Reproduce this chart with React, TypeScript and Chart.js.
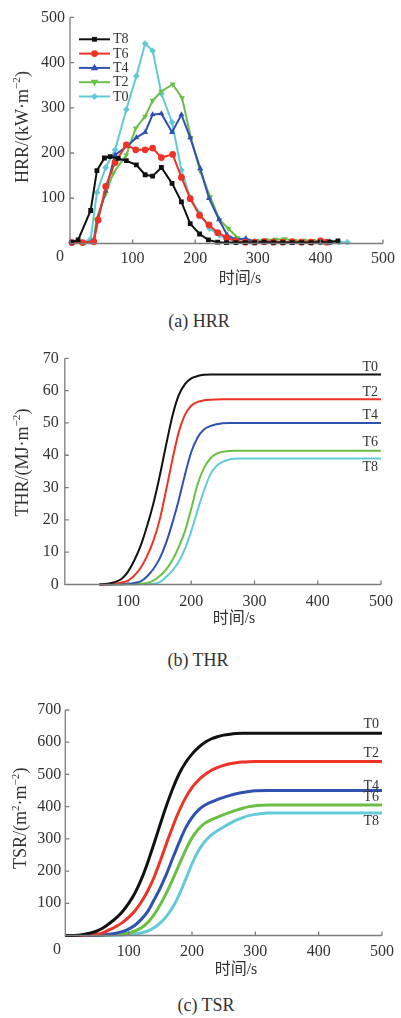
import React, { useEffect, useRef } from 'react';
import { Chart, registerables } from 'chart.js';

Chart.register(...registerables);

// ---------------- DATA ----------------
// (a) HRR, kW/m2 vs time (s)
const hrrNames = ['T8', 'T6', 'T4', 'T2', 'T0'];
const hrrT8Time = [3, 13, 33, 43, 55, 64, 77, 90, 106, 120, 132, 146, 163, 178, 192, 207, 221, 236, 250, 265, 280, 295, 310, 325, 340, 355, 370, 385, 400, 415, 428];
const hrrT8Value = [3, 8, 73, 161, 189, 192, 188, 183, 174, 152, 149, 168, 133, 92, 44, 21, 8, 3, 2, 2, 2, 2, 3, 2, 2, 2, 2, 2, 3, 3, 6];
const hrrT6Time = [3, 20, 38, 45, 57, 72, 90, 105, 120, 132, 146, 164, 178, 192, 207, 222, 236, 250, 265, 280, 295, 310, 325, 340, 355, 370, 385, 400, 410];
const hrrT6Value = [2, 2, 4, 52, 126, 179, 218, 207, 207, 211, 190, 197, 146, 99, 62, 41, 24, 13, 5, 3, 3, 4, 3, 3, 4, 3, 3, 6, 3];
const hrrT4Time = [3, 20, 38, 44, 57, 72, 91, 106, 120, 132, 146, 163, 178, 192, 208, 222, 238, 251, 264, 281, 295, 310, 325, 340, 355, 370, 385, 400, 415];
const hrrT4Value = [2, 2, 5, 54, 116, 196, 215, 234, 246, 285, 287, 246, 285, 234, 166, 100, 53, 19, 9, 11, 4, 4, 5, 3, 4, 3, 3, 4, 4];
const hrrT2Time = [3, 20, 38, 42, 56, 69, 90, 105, 120, 132, 146, 164, 179, 193, 208, 224, 239, 253, 268, 283, 298, 313, 328, 343, 358, 373, 388, 403, 418];
const hrrT2Value = [2, 2, 4, 53, 107, 155, 196, 255, 281, 316, 336, 352, 322, 234, 160, 103, 52, 33, 12, 6, 6, 8, 9, 10, 6, 7, 6, 5, 4];
const hrrT0Time = [3, 20, 33, 43, 57, 72, 90, 106, 120, 132, 146, 163, 178, 192, 207, 223, 239, 252, 265, 280, 295, 310, 325, 340, 355, 370, 385, 400, 415, 430, 443];
const hrrT0Value = [2, 2, 10, 113, 168, 207, 296, 370, 442, 426, 331, 268, 162, 102, 67, 33, 18, 10, 6, 4, 4, 3, 4, 3, 3, 3, 3, 3, 3, 3, 3];

// (b) THR, MJ/m2 vs time (s)
const thrNames = ['T0', 'T2', 'T4', 'T6', 'T8'];
const thrT0Time = [55, 60, 70, 80, 90, 100, 110, 120, 130, 140, 150, 160, 170, 180, 190, 200, 210, 220, 230, 250, 500];
const thrT0Value = [0, 0.1, 0.3, 0.8, 1.8, 4, 7.5, 12, 18, 25, 33.5, 43, 52, 58.5, 62, 63.8, 64.5, 64.9, 65, 65, 65];
const thrT2Time = [55, 70, 80, 90, 100, 110, 120, 130, 140, 150, 160, 170, 180, 190, 200, 210, 220, 230, 250, 500];
const thrT2Value = [0, 0.1, 0.3, 0.6, 1.2, 2.8, 5.2, 8.8, 13.5, 20, 29, 38.5, 47, 52.5, 55.3, 56.5, 57, 57.2, 57.3, 57.3];
const thrT4Time = [55, 80, 90, 100, 110, 120, 130, 140, 150, 160, 170, 180, 190, 200, 210, 220, 230, 240, 260, 500];
const thrT4Value = [0, 0.05, 0.1, 0.2, 0.5, 1, 2.5, 4.8, 8, 12.8, 19, 26, 34, 41, 45.5, 48, 49, 49.6, 50, 50];
const thrT6Time = [55, 100, 110, 120, 130, 140, 150, 160, 170, 180, 190, 200, 210, 220, 230, 240, 250, 270, 500];
const thrT6Value = [0, 0.05, 0.1, 0.2, 0.5, 1.2, 2.6, 4.6, 7.5, 11.5, 16.5, 23.5, 31, 36, 39, 40.5, 41.1, 41.4, 41.4];
const thrT8Time = [55, 120, 130, 140, 150, 160, 170, 180, 190, 200, 210, 220, 230, 240, 250, 260, 280, 500];
const thrT8Value = [0, 0.05, 0.1, 0.2, 0.7, 2.3, 4.3, 7, 11, 16.5, 23, 29, 34, 36.7, 38, 38.7, 39, 39];

// (c) TSR, m2/m2 vs time (s)
const tsrNames = ['T0', 'T2', 'T4', 'T6', 'T8'];
const tsrT0Time = [0, 20, 40, 50, 60, 70, 80, 90, 100, 110, 120, 130, 140, 150, 160, 170, 180, 190, 200, 210, 220, 230, 240, 250, 260, 270, 280, 500];
const tsrT0Value = [0, 1, 8, 14, 24, 38, 54, 74, 100, 132, 174, 226, 285, 346, 405, 458, 503, 537, 563, 583, 599, 610, 617, 622, 625, 627, 628, 628];
const tsrT2Time = [0, 30, 50, 60, 70, 80, 90, 100, 110, 120, 130, 140, 150, 160, 170, 180, 190, 200, 210, 220, 230, 240, 250, 260, 270, 280, 290, 300, 500];
const tsrT2Value = [0, 1, 4, 9, 18, 28, 40, 56, 77, 104, 138, 180, 232, 287, 340, 388, 428, 459, 482, 499, 512, 521, 528, 533, 536.5, 538.5, 539.5, 540, 540];
const tsrT4Time = [0, 50, 70, 80, 90, 100, 110, 120, 130, 140, 150, 160, 170, 180, 190, 200, 210, 220, 230, 240, 250, 260, 270, 280, 290, 300, 320, 500];
const tsrT4Value = [0, 1, 4, 7, 12, 20, 32, 50, 74, 110, 148, 192, 242, 290, 334, 366, 389, 404, 414, 422, 429, 435, 440, 444, 447, 449, 450, 450];
const tsrT6Time = [0, 60, 80, 90, 100, 110, 120, 130, 140, 150, 160, 170, 180, 190, 200, 210, 220, 230, 240, 250, 260, 270, 280, 290, 300, 310, 320, 500];
const tsrT6Value = [0, 1, 3, 5, 8, 14, 24, 40, 64, 96, 134, 176, 221, 265, 303, 330, 348, 359, 367, 375, 382, 389, 395, 400, 403, 404.5, 405, 405];
const tsrT8Time = [0, 80, 100, 110, 120, 130, 140, 150, 160, 170, 180, 190, 200, 210, 220, 230, 240, 250, 260, 270, 280, 290, 300, 310, 320, 500];
const tsrT8Value = [0, 1, 3, 5, 8, 14, 24, 39, 60, 89, 128, 174, 222, 262, 291, 311, 325, 337, 348, 358, 366, 372, 376, 378.5, 380, 380];

const xTicks = [0, 100, 200, 300, 400, 500];

// ---------------- STYLE ----------------
const SERIF = '"Liberation Serif", "Times New Roman", serif';
const CJK = '"Liberation Serif", "Noto Sans CJK SC", serif';
const AXIS = '#7d7d7d';
const TEXT = '#333333';
const BLACK = '#111111';
const RED = '#ee3326';
const BLUE = '#2f52b0';
const GREEN = '#6abf45';
const CYAN = '#62cad8';

const pts = (t: number[], v: number[]) => t.map((x, i) => ({ x, y: v[i] }));

type Seg = { t: string; sup?: boolean };

function drawSegs(ctx: CanvasRenderingContext2D, segs: Seg[], size: number) {
  const supSize = size * 0.62;
  const widths = segs.map((s) => {
    ctx.font = `${s.sup ? supSize : size}px ${SERIF}`;
    return ctx.measureText(s.t).width;
  });
  const total = widths.reduce((a, b) => a + b, 0);
  let x = -total / 2;
  ctx.textAlign = 'left';
  ctx.textBaseline = 'alphabetic';
  segs.forEach((s, i) => {
    ctx.font = `${s.sup ? supSize : size}px ${SERIF}`;
    ctx.fillText(s.t, x, s.sup ? size * 0.35 - size * 0.42 : size * 0.35);
    x += widths[i];
  });
}

function drawMarker(ctx: CanvasRenderingContext2D, style: string, rot: number, x: number, y: number, r: number) {
  ctx.save();
  ctx.translate(x, y);
  ctx.rotate((rot * Math.PI) / 180);
  ctx.beginPath();
  if (style === 'rect') {
    const s = r * Math.SQRT2;
    ctx.rect(-s / 2, -s / 2, s, s);
  } else if (style === 'circle') {
    ctx.arc(0, 0, r, 0, Math.PI * 2);
  } else if (style === 'triangle') {
    ctx.moveTo(0, -r * 1.2);
    ctx.lineTo(r * 1.1, r * 0.7);
    ctx.lineTo(-r * 1.1, r * 0.7);
    ctx.closePath();
  } else {
    ctx.moveTo(0, -r);
    ctx.lineTo(r, 0);
    ctx.lineTo(0, r);
    ctx.lineTo(-r, 0);
    ctx.closePath();
  }
  ctx.fill();
  ctx.restore();
}

type Decor = {
  tickLen: number;
  xTitle: string;
  xTitlePos: [number, number];
  yTitle: Seg[];
  yTitlePos: [number, number];
  zero?: [number, number];
  endLabels?: { text: string; dy: number }[];
  legend?: { x: number; y: number; dy: number; len: number };
};

function makeDecor(s: Decor) {
  return {
    id: 'decor',
    afterDraw(chart: any) {
      const ctx: CanvasRenderingContext2D = chart.ctx;
      const a = chart.chartArea;
      const xs = chart.scales.x;
      const ys = chart.scales.y;
      ctx.save();
      ctx.strokeStyle = AXIS;
      ctx.lineWidth = 1.3;
      ctx.beginPath();
      ctx.moveTo(a.left, a.top);
      ctx.lineTo(a.left, a.bottom);
      ctx.lineTo(a.right, a.bottom);
      ctx.stroke();
      ctx.beginPath();
      for (const t of xs.ticks) {
        if (t.value <= xs.min) continue;
        const px = xs.getPixelForValue(t.value);
        ctx.moveTo(px, a.bottom);
        ctx.lineTo(px, a.bottom - s.tickLen);
      }
      for (const t of ys.ticks) {
        if (t.value <= ys.min) continue;
        const py = ys.getPixelForValue(t.value);
        ctx.moveTo(a.left, py);
        ctx.lineTo(a.left + s.tickLen, py);
      }
      ctx.stroke();

      ctx.fillStyle = TEXT;
      if (s.zero) {
        ctx.font = `16px ${SERIF}`;
        ctx.textAlign = 'center';
        ctx.textBaseline = 'middle';
        ctx.fillText('0', s.zero[0], s.zero[1]);
      }
      ctx.font = `16px ${CJK}`;
      ctx.textAlign = 'center';
      ctx.textBaseline = 'middle';
      ctx.fillText(s.xTitle, s.xTitlePos[0], s.xTitlePos[1]);

      ctx.save();
      ctx.translate(s.yTitlePos[0], s.yTitlePos[1]);
      ctx.rotate(-Math.PI / 2);
      drawSegs(ctx, s.yTitle, 18);
      ctx.restore();

      if (s.endLabels) {
        ctx.font = `14px ${SERIF}`;
        ctx.textAlign = 'right';
        ctx.textBaseline = 'middle';
        ctx.fillStyle = TEXT;
        s.endLabels.forEach((lab, i) => {
          const d = chart.data.datasets[i].data;
          const last = d[d.length - 1];
          ctx.fillText(lab.text, a.right - 3, ys.getPixelForValue(last.y) + lab.dy);
        });
      }

      if (s.legend) {
        const L = s.legend;
        chart.data.datasets.forEach((ds: any, i: number) => {
          const y = L.y + i * L.dy;
          ctx.strokeStyle = ds.borderColor;
          ctx.lineWidth = ds.borderWidth;
          ctx.beginPath();
          ctx.moveTo(L.x, y);
          ctx.lineTo(L.x + L.len, y);
          ctx.stroke();
          ctx.fillStyle = ds.borderColor;
          drawMarker(ctx, ds.pointStyle, ds.pointRotation || 0, L.x + L.len / 2, y, ds.pointRadius);
          ctx.fillStyle = TEXT;
          ctx.font = `14px ${SERIF}`;
          ctx.textAlign = 'left';
          ctx.textBaseline = 'middle';
          ctx.fillText(ds.label, L.x + L.len + 3, y + 0.5);
        });
      }
      ctx.restore();
    },
  };
}

type Build = {
  datasets: any[];
  yMax: number;
  yStep: number;
  area: { l: number; r: number; t: number; b: number };
  xPad: number;
  yPad: number;
  hideX0: boolean;
  hideY0: boolean;
  decor: Decor;
};

const H = 300;
const W = 401;

function buildConfig(p: Build): any {
  return {
    type: 'line',
    data: { datasets: p.datasets },
    plugins: [makeDecor(p.decor)],
    options: {
      responsive: false,
      animation: false,
      devicePixelRatio: 1,
      layout: { autoPadding: false, padding: { top: p.area.t, right: W - p.area.r, left: 0, bottom: 0 } },
      plugins: { legend: { display: false }, tooltip: { enabled: false }, title: { display: false } },
      elements: { line: { tension: 0 } },
      scales: {
        x: {
          type: 'linear',
          min: 0,
          max: 500,
          afterFit: (sc: any) => {
            sc.height = H - p.area.b;
          },
          afterBuildTicks: (sc: any) => {
            sc.ticks = xTicks.map((v) => ({ value: v }));
          },
          ticks: {
            padding: p.xPad,
            color: TEXT,
            font: { family: SERIF, size: 16 },
            maxRotation: 0,
            autoSkip: false,
            callback: (v: number) => (p.hideX0 && v === 0 ? '' : String(v)),
          },
          grid: { display: false, drawTicks: false },
          border: { display: false },
        },
        y: {
          type: 'linear',
          min: 0,
          max: p.yMax,
          afterFit: (sc: any) => {
            sc.width = p.area.l;
          },
          ticks: {
            stepSize: p.yStep,
            padding: p.yPad,
            color: TEXT,
            font: { family: SERIF, size: 16 },
            callback: (v: number) => (p.hideY0 && v === 0 ? '' : String(v)),
          },
          grid: { display: false, drawTicks: false },
          border: { display: false },
        },
      },
    },
  };
}

function hrrDataset(label: string, t: number[], v: number[], color: string, style: string, rot = 0) {
  return {
    label,
    data: pts(t, v),
    borderColor: color,
    backgroundColor: color,
    borderWidth: 2,
    pointStyle: style,
    pointRotation: rot,
    pointRadius: 3.4,
    pointBorderWidth: 0,
    pointBackgroundColor: color,
    clip: 6,
  };
}

function curveDataset(label: string, t: number[], v: number[], color: string, width: number) {
  return {
    label,
    data: pts(t, v),
    borderColor: color,
    borderWidth: width,
    pointRadius: 0,
    cubicInterpolationMode: 'monotone',
    clip: 4,
  };
}

function configA() {
  return buildConfig({
    datasets: [
      hrrDataset(hrrNames[0], hrrT8Time, hrrT8Value, BLACK, 'rect'),
      hrrDataset(hrrNames[1], hrrT6Time, hrrT6Value, RED, 'circle'),
      hrrDataset(hrrNames[2], hrrT4Time, hrrT4Value, BLUE, 'triangle'),
      hrrDataset(hrrNames[3], hrrT2Time, hrrT2Value, GREEN, 'triangle', 180),
      hrrDataset(hrrNames[4], hrrT0Time, hrrT0Value, CYAN, 'rectRot'),
    ],
    yMax: 500,
    yStep: 100,
    area: { l: 70, r: 387, t: 17.3, b: 243.5 },
    xPad: 6,
    yPad: 5,
    hideX0: true,
    hideY0: true,
    decor: {
      tickLen: 4,
      xTitle: '时间/s',
      xTitlePos: [240, 278.5],
      yTitle: [{ t: 'HRR/(kW·m' }, { t: '−2', sup: true }, { t: ')' }],
      yTitlePos: [21.5, 127],
      zero: [60, 257],
      legend: { x: 79, y: 39.3, dy: 14.3, len: 31 },
    },
  });
}

function configB() {
  return buildConfig({
    datasets: [
      curveDataset(thrNames[0], thrT0Time, thrT0Value, BLACK, 2),
      curveDataset(thrNames[1], thrT2Time, thrT2Value, RED, 2),
      curveDataset(thrNames[2], thrT4Time, thrT4Value, BLUE, 2),
      curveDataset(thrNames[3], thrT6Time, thrT6Value, GREEN, 2),
      curveDataset(thrNames[4], thrT8Time, thrT8Value, CYAN, 2),
    ],
    yMax: 70,
    yStep: 10,
    area: { l: 64.8, r: 381, t: 18.3, b: 244.5 },
    xPad: 8,
    yPad: 6,
    hideX0: true,
    hideY0: false,
    decor: {
      tickLen: 4,
      xTitle: '时间/s',
      xTitlePos: [234, 279],
      yTitle: [{ t: 'THR/(MJ·m' }, { t: '−2', sup: true }, { t: ')' }],
      yTitlePos: [21.7, 122.5],
      endLabels: [
        { text: 'T0', dy: -7.5 },
        { text: 'T2', dy: -7.5 },
        { text: 'T4', dy: -7.5 },
        { text: 'T6', dy: -8 },
        { text: 'T8', dy: 8.5 },
      ],
    },
  });
}

function configC() {
  return buildConfig({
    datasets: [
      curveDataset(tsrNames[0], tsrT0Time, tsrT0Value, BLACK, 3),
      curveDataset(tsrNames[1], tsrT2Time, tsrT2Value, RED, 3),
      curveDataset(tsrNames[2], tsrT4Time, tsrT4Value, BLUE, 3),
      curveDataset(tsrNames[3], tsrT6Time, tsrT6Value, GREEN, 3),
      curveDataset(tsrNames[4], tsrT8Time, tsrT8Value, CYAN, 3),
    ],
    yMax: 700,
    yStep: 100,
    area: { l: 65.3, r: 382.7, t: 20, b: 245.5 },
    xPad: 7,
    yPad: 4,
    hideX0: true,
    hideY0: true,
    decor: {
      tickLen: 4,
      xTitle: '时间/s',
      xTitlePos: [236, 280],
      yTitle: [{ t: 'TSR/(m' }, { t: '2', sup: true }, { t: '·m' }, { t: '−2', sup: true }, { t: ')' }],
      yTitlePos: [20, 128.3],
      zero: [57, 260],
      endLabels: [
        { text: 'T0', dy: -9 },
        { text: 'T2', dy: -8 },
        { text: 'T4', dy: -4 },
        { text: 'T6', dy: -8 },
        { text: 'T8', dy: 8.5 },
      ],
    },
  });
}

function ChartCanvas({ make, top }: { make: () => any; top: number }) {
  const ref = useRef<HTMLCanvasElement | null>(null);
  useEffect(() => {
    if (!ref.current) return;
    const c = new Chart(ref.current, make());
    return () => c.destroy();
  }, []);
  return (
    <canvas
      ref={ref}
      width={W}
      height={H}
      style={{ position: 'absolute', left: 0, top, width: W, height: H }}
    />
  );
}

function Caption({ text, cx, cy }: { text: string; cx: number; cy: number }) {
  return (
    <div
      style={{
        position: 'absolute',
        left: cx - 100,
        top: cy - 11,
        width: 200,
        height: 22,
        lineHeight: '22px',
        textAlign: 'center',
        fontFamily: SERIF,
        fontSize: 18,
        color: TEXT,
      }}
    >
      {text}
    </div>
  );
}

export default function App() {
  return (
    <div style={{ position: 'absolute', left: 0, top: 0, width: W, height: 1018, background: '#fff', overflow: 'hidden' }}>
      <ChartCanvas make={configA} top={0} />
      <Caption text="(a) HRR" cx={199} cy={321} />
      <ChartCanvas make={configB} top={340} />
      <Caption text="(b) THR" cx={198} cy={660} />
      <ChartCanvas make={configC} top={690} />
      <Caption text="(c) TSR" cx={206} cy={1005} />
    </div>
  );
}
